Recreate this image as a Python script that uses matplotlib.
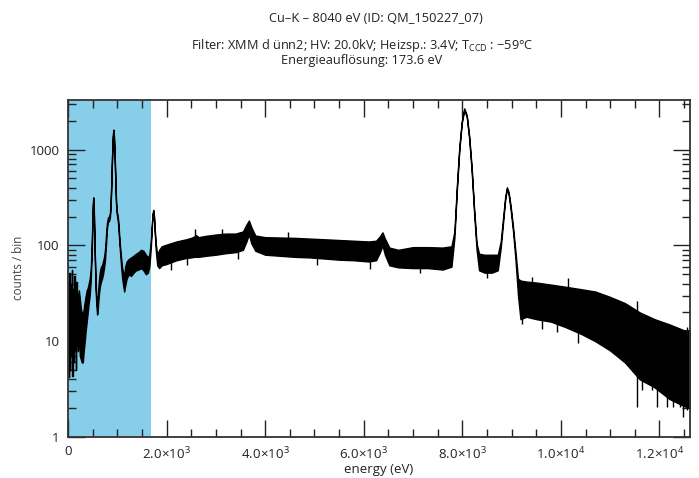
import matplotlib
matplotlib.use("Agg")
import matplotlib.pyplot as plt
import numpy as np
from matplotlib.ticker import FixedLocator, FixedFormatter, MultipleLocator, LogLocator, NullFormatter

plt.rcParams['font.family'] = ['Open Sans', 'DejaVu Sans']
plt.rcParams['mathtext.fontset'] = 'custom'
plt.rcParams['mathtext.rm'] = 'Open Sans'
plt.rcParams['mathtext.it'] = 'Open Sans:italic'
plt.rcParams['mathtext.bf'] = 'Open Sans:bold'

# ---------------- data ----------------
title_line1 = "Cu\u2013K \u2013 8040 eV (ID: QM_150227_07)"
title_line2 = "Filter: XMM d ünn2; HV: 20.0kV; Heizsp.: 3.4V; T$_{\\rm CCD}$ : \u221259°C"
title_line3 = "Energieauflösung: 173.6 eV"
x_label = "energy (eV)"
y_label = "counts / bin"

shaded_range = [0, 1680]  # eV

# very low energy: coarse jumping bins
step_energy = [0, 12, 24, 36, 48, 60, 72, 84, 96, 108, 120, 132, 144, 156, 168, 180, 192, 200]
step_counts = [30, 4.2, 52, 5, 40, 7, 55, 4.3, 35, 6, 48, 8, 25, 5, 42, 9, 30, 8]

# spectrum: energy and lower / upper edge of the noisy band
energy = [200, 220, 240, 260, 280, 300, 320, 340, 360, 380,
          400, 420, 440, 460, 480, 495, 505, 513, 520, 530,
          545, 560, 575, 590, 600, 615, 630, 650, 670, 690,
          710, 730, 750, 770, 790, 810, 830, 850, 865, 880,
          895, 910, 920, 930, 945, 960, 975, 990, 1005, 1020,
          1040, 1060, 1080, 1100, 1120, 1140, 1160, 1190, 1230, 1280,
          1330, 1380, 1430, 1480, 1530, 1580, 1620, 1650, 1680, 1700,
          1715, 1730, 1745, 1760, 1780, 1810, 1850, 1900, 2000, 2100,
          2200, 2300, 2400, 2500, 2560, 2600, 2650, 2800, 3000, 3200,
          3400, 3550, 3620, 3670, 3720, 3800, 4000, 4300, 4600, 4900,
          5200, 5500, 5800, 6100, 6250, 6330, 6380, 6430, 6520, 6700,
          7000, 7300, 7600, 7780, 7840, 7890, 7940, 7990, 8040, 8090,
          8140, 8190, 8240, 8290, 8340, 8450, 8600, 8720, 8780, 8830,
          8870, 8905, 8940, 8980, 9030, 9080, 9130, 9180, 9300, 9500,
          9800, 10100, 10400, 10700, 11000, 11300, 11600, 11900, 12200, 12500,
          12620]
counts_low = [8, 12, 7, 6.5, 6, 6, 8, 10, 13, 16,
              20, 25, 30, 42, 80, 170, 260, 305, 270, 160,
              70, 35, 24, 19, 20, 26, 32, 38, 42, 45,
              50, 58, 70, 100, 150, 175, 180, 195, 260, 450,
              850, 1350, 1560, 1400, 900, 480, 270, 210, 190, 160,
              110, 80, 58, 45, 38, 33, 38, 45, 50, 48,
              52, 55, 56, 58, 55, 50, 52, 60, 95, 150,
              200, 225, 190, 135, 90, 62, 58, 62, 64, 67,
              70, 72, 74, 75, 76, 76, 76, 78, 80, 83,
              85, 90, 110, 130, 105, 88, 80, 78, 76, 75,
              73, 71, 70, 68, 70, 85, 100, 80, 62, 59,
              58, 58, 56, 60, 120, 380, 1000, 1900, 2600, 2200,
              1300, 600, 220, 90, 55, 52, 52, 55, 95, 180,
              300, 390, 340, 240, 140, 70, 30, 17, 18, 17,
              16, 14, 12, 10, 8, 6, 4, 3.3, 2.5, 2.1,
              2.0]
counts_high = [30, 34, 28, 22, 20, 18, 22, 26, 30, 34,
               36, 40, 45, 55, 95, 185, 275, 318, 285, 170,
               80, 42, 28, 23, 26, 36, 45, 55, 60, 62,
               68, 75, 90, 125, 170, 195, 200, 215, 280, 480,
               900, 1420, 1620, 1460, 950, 510, 290, 225, 210, 180,
               125, 92, 72, 58, 52, 48, 60, 68, 72, 75,
               78, 82, 85, 90, 88, 80, 75, 80, 110, 165,
               215, 235, 205, 150, 105, 80, 90, 98, 102, 106,
               110, 113, 116, 120, 124, 128, 122, 126, 130, 133,
               133, 140, 165, 182, 155, 127, 122, 121, 120, 118,
               116, 114, 112, 110, 112, 125, 137, 118, 95, 90,
               96, 96, 95, 98, 140, 420, 1080, 2000, 2700, 2300,
               1380, 650, 240, 105, 82, 80, 80, 80, 110, 200,
               320, 405, 360, 260, 155, 85, 45, 43, 42, 41,
               39, 37, 35, 33, 29, 25, 20, 17, 15, 13,
               13]

# isolated noise spikes visible beyond the band (energy, bottom, top)
spike_energy = [2090, 2407, 2580, 3117, 3455, 4469, 5045, 6126, 7150, 8500,
                9203, 9420, 9608, 9913, 10150, 10351, 10791, 11061, 11332, 11535,
                11637, 11839, 11941, 12144, 12278, 12414, 12481, 12560]
spike_bottom = [55, 62, 100, 100, 73, 100, 62, 57, 52, 46,
                15.3, 25, 13.5, 12.5, 20, 9.5, 10.2, 8.1, 6.3, 2.07,
                3.1, 3.1, 2.07, 2.07, 2.07, 2.07, 1.6, 1.9]
spike_top = [80, 85, 147, 150, 95, 137, 90, 85, 75, 65,
             30, 47, 28, 28, 46, 25, 25, 20, 15, 26,
             10, 10, 8, 8, 8, 8, 7, 14]

x_major = [0, 2000, 4000, 6000, 8000, 10000, 12000]
x_tick_labels = ["0", r"$2.0\!\times\!10^{3}$", r"$4.0\!\times\!10^{3}$", r"$6.0\!\times\!10^{3}$",
                 r"$8.0\!\times\!10^{3}$", r"$1.0\!\times\!10^{4}$", r"$1.2\!\times\!10^{4}$"]
y_major = [1, 10, 100, 1000]
y_tick_labels = ["1", "10", "100", "1000"]

# ---------------- figure ----------------
W, H = 699, 478
fig = plt.figure(figsize=(W / 100, H / 100), dpi=100)
ax = fig.add_axes([68 / W, 41 / H, 622 / W, 337 / H])

ax.axvspan(shaded_range[0], shaded_range[1], color="#87ceeb", lw=0, zorder=0)

ax.plot(step_energy, step_counts, drawstyle="steps-post", color="black", lw=1.0, zorder=2)
ax.fill_between(energy, counts_low, counts_high, facecolor="black", edgecolor="black",
                lw=1.0, zorder=2)
ax.vlines(spike_energy, spike_bottom, spike_top, color="black", lw=1.0, zorder=2)

ax.set_yscale("log")
ax.set_xlim(0, 12620)
ax.set_ylim(1, 3300)

ax.xaxis.set_major_locator(FixedLocator(x_major))
ax.xaxis.set_major_formatter(FixedFormatter(x_tick_labels))
ax.xaxis.set_minor_locator(MultipleLocator(500))
ax.yaxis.set_major_locator(FixedLocator(y_major))
ax.yaxis.set_major_formatter(FixedFormatter(y_tick_labels))
ax.yaxis.set_minor_locator(LogLocator(base=10, subs=np.arange(2, 10)))
ax.yaxis.set_minor_formatter(NullFormatter())

tc = "#222222"
ax.tick_params(which="both", direction="in", top=True, right=True, color=tc, width=1.0,
               labelsize=9.5, labelcolor=tc)
ax.tick_params(which="major", length=12, pad=6)
ax.tick_params(which="minor", length=6)
for s in ax.spines.values():
    s.set_linewidth(1.3)
    s.set_color("#333333")

ax.set_xlabel(x_label, fontsize=9.5, color=tc, labelpad=1)
fig.text(18 / W, 1 - 268 / H, y_label, rotation=90, ha="center", va="center",
         fontsize=8.5, color="#444444")

fig.text(376 / W, 1 - 18 / H, title_line1, ha="center", va="center", fontsize=9.3, color=tc)
fig.text(362 / W, 1 - 52 / H, title_line2 + "\n" + title_line3, ha="center", va="center",
         multialignment="center", linespacing=1.0, fontsize=9.2, color=tc)

fig.savefig("out.png", dpi=100)
